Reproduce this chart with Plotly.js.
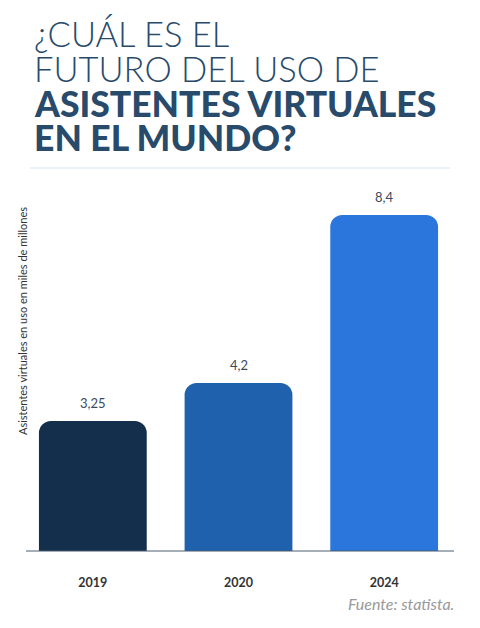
<!DOCTYPE html>
<html>
<head>
<meta charset="utf-8">
<script src="https://cdn.plot.ly/plotly-3.0.1.min.js"></script>
<style>
  html, body { margin: 0; padding: 0; background: #ffffff; }
  #chart { width: 480px; height: 628px; }
</style>
</head>
<body>
<div id="chart"></div>
<script>
// Años y asistentes virtuales en uso (miles de millones)
const years = ['2019', '2020', '2024'];
const users = [3.25, 4.2, 8.4];
const valueLabels = ['3,25', '4,2', '8,4'];
const barColors = ['#132f4c', '#1f61ad', '#2a76dc'];

const titleLight = ['¿CUÁL ES EL', 'FUTURO DEL USO DE'];
const titleBold = ['ASISTENTES VIRTUALES', 'EN EL MUNDO?'];
const yTitle = 'Asistentes virtuales en uso en miles de millones';
const sourceText = 'Fuente: statista.';

const W = 480, H = 628;
const M = { l: 20, r: 23, t: 191, b: 77 };
const plotW = W - M.l - M.r;
const plotH = H - M.t - M.b;
// paper coords from pixel positions
const toPaperX = x => (x - M.l) / plotW;
const toPaperY = y => (H - M.b - y) / plotH;

const titleColor = '#284a6b';
const annotations = [];

// Heading: two light lines then two heavy lines
titleLight.forEach((t, i) => {
  annotations.push({
    text: t, xref: 'paper', yref: 'paper', x: toPaperX(32), y: toPaperY(33.5 + i * 34.5),
    xanchor: 'left', yanchor: 'middle', showarrow: false,
    font: { family: 'Lato', size: 34.5, weight: 300, color: titleColor }
  });
});
titleBold.forEach((t, i) => {
  annotations.push({
    text: t, xref: 'paper', yref: 'paper', x: toPaperX(32), y: toPaperY(103.5 + i * 34),
    xanchor: 'left', yanchor: 'middle', showarrow: false,
    font: { family: 'Lato', size: 35.5, weight: 900, color: titleColor }
  });
});

// Value labels above each bar
years.forEach((yr, i) => {
  annotations.push({
    text: valueLabels[i], x: i, y: users[i], xref: 'x', yref: 'y',
    xanchor: 'center', yanchor: 'bottom', yshift: 8, showarrow: false,
    font: { family: 'Lato', size: 13, color: '#3a4a5c' }
  });
});

// Vertical axis caption
annotations.push({
  text: yTitle, xref: 'paper', yref: 'paper', x: toPaperX(22), y: toPaperY(321),
  textangle: -90, xanchor: 'center', yanchor: 'middle', showarrow: false,
  font: { family: 'Lato', size: 11, color: '#333333' }
});

// Source note
annotations.push({
  text: sourceText, xref: 'paper', yref: 'paper', x: toPaperX(456), y: toPaperY(603),
  xanchor: 'right', yanchor: 'middle', showarrow: false,
  font: { family: 'Lato', size: 16, style: 'italic', color: '#999999' }
});

const shapes = [
  // thin divider under the heading
  { type: 'line', xref: 'paper', yref: 'paper', x0: toPaperX(30), x1: toPaperX(450),
    y0: toPaperY(168), y1: toPaperY(168), line: { color: '#d5e5f2', width: 1.2 } },
  // baseline
  { type: 'line', xref: 'paper', yref: 'paper', x0: toPaperX(26), x1: toPaperX(454), y0: 0, y1: 0,
    line: { color: '#4d5d70', width: 1 }, layer: 'above' }
];

const trace = {
  type: 'bar', x: years, y: users,
  marker: { color: barColors },
  hoverinfo: 'none'
};

const layout = {
  width: W, height: H, margin: M,
  paper_bgcolor: '#ffffff', plot_bgcolor: '#ffffff',
  bargap: 0.26, barcornerradius: 12,
  showlegend: false,
  xaxis: {
    type: 'category', range: [-0.5, 2.5],
    showgrid: false, zeroline: false, showline: false,
    ticks: 'outside', ticklen: 20, tickcolor: 'rgba(0,0,0,0)',
    tickfont: { family: 'Lato', size: 12.5, weight: 700, color: '#333333' }
  },
  yaxis: {
    range: [0, 9], showgrid: false, zeroline: false, showline: false,
    showticklabels: false, ticks: ''
  },
  annotations: annotations,
  shapes: shapes
};

Plotly.newPlot('chart', [trace], layout, { displayModeBar: false, staticPlot: true });
</script>
</body>
</html>
